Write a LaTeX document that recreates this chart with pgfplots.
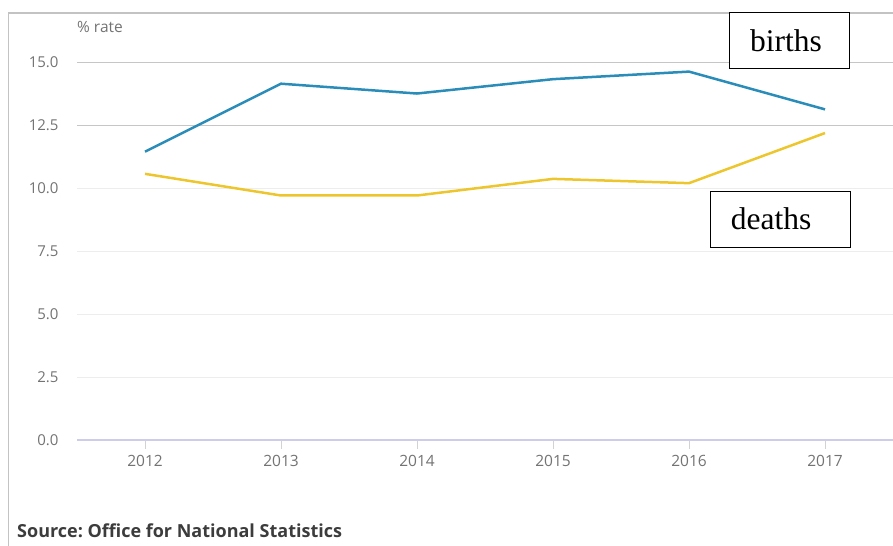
\documentclass[border=0pt]{standalone}
\usepackage{pgfplots}
\pgfplotsset{compat=1.18}
\usepackage{fontspec}
\setmainfont{Open Sans}
\newfontfamily\tnr{Liberation Serif}
\definecolor{births}{RGB}{42,140,184}
\definecolor{deaths}{RGB}{236,198,44}
\definecolor{lav}{RGB}{205,205,235}
\definecolor{ticktxt}{RGB}{115,115,115}
\begin{document}
\frenchspacing
\begin{tikzpicture}
% outer frame (clipped by page)
\draw[draw={rgb,255:red,195;green,195;blue,195}, line width=1.5bp] (8.7bp,-5bp) -- (8.7bp,533bp) -- (900bp,533bp);
\begin{axis}[
  at={(77bp,106bp)}, anchor=south west,
  scale only axis, width=816bp, height=377.7bp,
  xmin=2011.5, xmax=2017.5, ymin=0, ymax=15,
  axis x line*=bottom, axis y line*=left,
  x axis line style={draw=lav, line width=1.2bp, -},
  y axis line style={draw=none},
  xtick={2012,2013,2014,2015,2016,2017},
  ytick={0,2.5,5,7.5,10},
  extra y ticks={12.5,15},
  extra y tick style={major grid style={draw=gray!45, line width=1bp}},
  ymajorgrids,
  major grid style={draw=gray!14, line width=1bp},
  tick align=outside,
  major tick length=9bp,
  xtick style={draw=gray!35, line width=0.8bp},
  ytick style={draw=none},
  /pgf/number format/assume math mode=true,
  xticklabel style={font=\fontsize{15.5bp}{17bp}\selectfont, text=ticktxt, /pgf/number format/1000 sep={}, yshift=-3bp},
  yticklabel style={font=\fontsize{15bp}{17bp}\selectfont, text=ticktxt, /pgf/number format/fixed, /pgf/number format/fixed zerofill, /pgf/number format/precision=1, xshift=-6bp},
  clip=false,
]
\addplot[color=births, line width=2.5bp] coordinates {(2012,11.45) (2013,14.15) (2014,13.76) (2015,14.33) (2016,14.63) (2017,13.13)};
\addplot[color=deaths, line width=2.5bp] coordinates {(2012,10.57) (2013,9.71) (2014,9.71) (2015,10.37) (2016,10.2) (2017,12.19)};
\end{axis}
\node[anchor=base west, inner sep=0pt, text=ticktxt, font=\fontsize{15.5bp}{17bp}\selectfont] at (77bp,513bp) {\% rate};
\node[anchor=base west, inner sep=0pt, text={rgb,255:red,60;green,60;blue,60}, font=\fontsize{18bp}{20bp}\selectfont\bfseries] at (17bp,9bp) {Source: Office for National Statistics};
% annotation boxes
\draw[fill=white, draw=black, line width=1bp] (729bp,477.7bp) rectangle (849bp,533.3bp);
\node[anchor=base west, inner sep=0pt, font=\fontsize{31.5bp}{34bp}\tnr] at (750bp,494bp) {births};
\draw[fill=white, draw=black, line width=1bp] (710.7bp,298.3bp) rectangle (850bp,354bp);
\node[anchor=base west, inner sep=0pt, font=\fontsize{31.5bp}{34bp}\tnr] at (730.7bp,316bp) {deaths};
\pgfresetboundingbox
\useasboundingbox (0,0) rectangle (893bp,546bp);
\end{tikzpicture}
\end{document}
